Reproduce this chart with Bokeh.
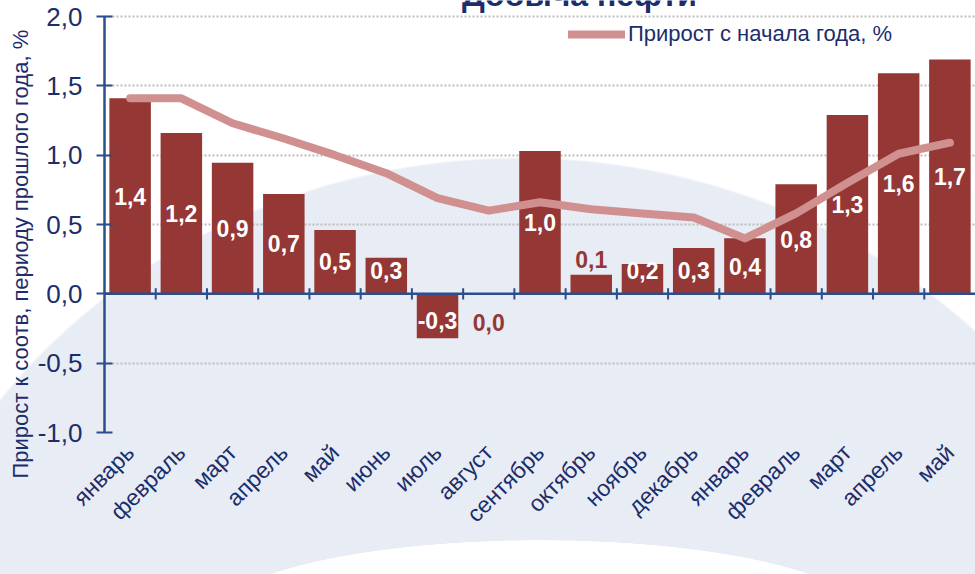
import math
from bokeh.plotting import figure
from bokeh.models import (ColumnDataSource, FixedTicker, Span, Legend, LegendItem, Label,
                          Title)
from bokeh.embed import file_html
from bokeh.resources import INLINE
from bokeh.core.properties import value

# ---------------- data ----------------
months = ["январь", "февраль", "март", "апрель", "май", "июнь", "июль", "август",
          "сентябрь", "октябрь", "ноябрь", "декабрь",
          "январь", "февраль", "март", "апрель", "май"]
years = ["2014 год", "2015 год"]
year_lengths = [12, 5]
yoy_growth = [1.41, 1.16, 0.945, 0.72, 0.46, 0.26, -0.32, 0.0,
              1.03, 0.137, 0.216, 0.33, 0.40, 0.79, 1.29, 1.59, 1.69]
ytd_growth = [1.41, 1.41, 1.23, 1.12, 1.0, 0.87, 0.69, 0.60,
              0.66, 0.61, 0.58, 0.55, 0.40, 0.58, 0.80, 1.01, 1.09]
y_ticks = [-1.0, -0.5, 0.0, 0.5, 1.0, 1.5, 2.0]
legend_label = "Прирост с начала года, %"
y_title = "Прирост к соотв, периоду прошлого года, %"
title_text = "Добыча нефти"

# ---------------- styles ----------------
FONT = "Liberation Sans"
NAVY = "#1C2D6B"
AXIS = "#2B4F8C"
BAR = "#953735"
LINE = "#D09090"

W, H = 975, 574
p = figure(width=W, height=H, output_backend="svg", toolbar_location=None,
           x_range=(0, len(months)), y_range=(-1.0, 2.1154),
           min_border_left=104, min_border_right=0, min_border_top=0,
           min_border_bottom=142)
p.background_fill_alpha = 0
p.border_fill_alpha = 0
p.outline_line_color = None
p.styles = {
    "background": (
        "radial-gradient(330px 80px at 540px 620px, #ffffff 99.3%, rgba(255,255,255,0) 100%),"
        "radial-gradient(650px 603px at 520px 760px, #E8ECF4 99.6%, rgba(232,236,244,0) 100%),"
        "#ffffff"
    )
}

n = len(months)
xc = [i + 0.5 for i in range(n)]

# grid
p.xgrid.grid_line_color = None
p.ygrid.ticker = FixedTicker(ticks=[t for t in y_ticks if t != 0])
p.ygrid.grid_line_color = "#BDBDBD"
p.ygrid.grid_line_width = 2
p.ygrid.grid_line_dash = "2 2"

# bars
src = ColumnDataSource(dict(x=xc, top=yoy_growth))
p.vbar(x="x", top="top", bottom=0, width=0.81, source=src,
       fill_color=BAR, line_color=None)

# zero axis line with category boundary ticks
p.add_layout(Span(location=0, dimension="width", line_color=AXIS, line_width=2.5))
bounds = list(range(1, n))
p.segment(x0=bounds, x1=bounds, y0=[-0.04] * len(bounds), y1=[0.04] * len(bounds),
          line_color=AXIS, line_width=2)

# line series
line_r = p.line(xc, ytd_growth, line_color=LINE, line_width=8, line_cap="round",
                line_join="round")

# bar value labels
def fmt(v):
    return f"{v:.1f}".replace(".", ",")

in_x, in_y, in_t, out_x, out_y, out_t = [], [], [], [], [], []
for i, v in enumerate(yoy_growth):
    t = fmt(v)
    if abs(v) < 0.15:
        out_x.append(xc[i]); out_t.append(t)
        out_y.append(v + 0.11 if v > 0.01 else -0.21)
    else:
        in_x.append(xc[i]); in_t.append(t)
        in_y.append(max(v / 2, 0.165) if v > 0 else min(v / 2, -0.19))

p.text(in_x, in_y, text=in_t, text_color="white", text_font=value(FONT),
       text_font_style="bold", text_font_size="23px", text_align="center",
       text_baseline="middle")
p.text(out_x, out_y, text=out_t, text_color=BAR, text_font=value(FONT),
       text_font_style="bold", text_font_size="23px", text_align="center",
       text_baseline="middle")

# y axis
ya = p.yaxis[0]
ya.ticker = FixedTicker(ticks=y_ticks)
ya.major_label_overrides = {t: f"{t:.1f}".replace(".", ",") for t in y_ticks}
ya.bounds = (-1.0, 2.0)
ya.axis_line_color = AXIS
ya.axis_line_width = 2.5
ya.major_tick_line_color = AXIS
ya.major_tick_line_width = 2
ya.major_tick_in = 8
ya.major_tick_out = 8
ya.minor_tick_line_color = None
ya.major_label_text_font = FONT
ya.major_label_text_font_size = "26px"
ya.major_label_text_color = NAVY
ya.major_label_standoff = 14

# y axis title as a left-side title, starting near the bottom like the reference
p.add_layout(Title(text=y_title, align="left", offset=-46, standoff=4,
                   text_font=FONT, text_font_size="22px", text_font_style="normal",
                   text_color=NAVY), "left")

# x axis (month labels)
xa = p.xaxis[0]
xa.ticker = FixedTicker(ticks=xc)
xa.major_label_overrides = {x: m for x, m in zip(xc, months)}
xa.major_label_orientation = math.pi / 4
xa.axis_line_color = None
xa.major_tick_line_color = None
xa.minor_tick_line_color = None
xa.major_label_text_font = FONT
xa.major_label_text_font_size = "23px"
xa.major_label_text_color = NAVY
xa.major_label_standoff = 10

# chart title (only its lower edge is visible at the top, as in the reference)
p.add_layout(Label(x=9.27, y=2.155, text=title_text, text_font=FONT,
                   text_font_style="bold", text_font_size="32px", text_color=NAVY,
                   text_align="center", text_baseline="alphabetic"))

# year labels
start = 0
for yr, ln in zip(years, year_lengths):
    cx = start + ln / 2 + (1.0 if start == 0 else 0.0)
    p.add_layout(Label(x=cx, y=-1.94, text=yr, text_font=FONT, text_font_size="22px",
                       text_color=NAVY, text_align="center", text_baseline="middle"))
    start += ln

# legend
legend = Legend(items=[LegendItem(label=legend_label, renderers=[line_r])],
                location=(464, 385), orientation="horizontal",
                border_line_color=None, background_fill_alpha=0,
                padding=0, margin=0, spacing=0,
                glyph_width=57, glyph_height=24, label_height=24,
                label_standoff=3, label_text_font=FONT,
                label_text_font_size="22px", label_text_color=NAVY)
p.add_layout(legend)

open("out.html", "w").write(file_html(p, INLINE, title=title_text))
